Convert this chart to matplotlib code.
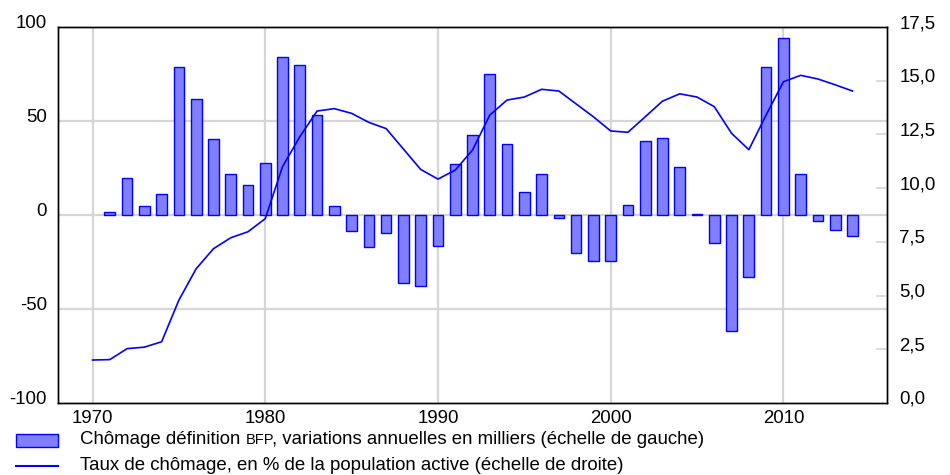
import matplotlib
matplotlib.use("Agg")
import matplotlib.pyplot as plt
import matplotlib.transforms as mtransforms
from matplotlib.patches import Rectangle
from matplotlib.lines import Line2D
import numpy as np

plt.rcParams['font.family'] = ['Liberation Sans', 'DejaVu Sans']
plt.rcParams['axes.unicode_minus'] = False

years = list(range(1970, 2015))

# variations annuelles du chômage (milliers), 1970 sans valeur
variations = [np.nan, 1.5, 19.5, 4.6, 11.0, 78.5, 61.5, 40.3, 21.6, 15.8,
              27.5, 83.9, 79.6, 53.0, 4.6, -8.7, -17.2, -9.7, -36.3, -37.9,
              -16.6, 27.1, 42.4, 74.8, 37.6, 12.1, 21.6, -1.8, -20.4, -24.6,
              -24.6, 5.2, 39.2, 40.8, 25.4, 0.5, -15.0, -61.9, -33.1, 78.5,
              94.0, 21.6, -3.4, -8.1, -11.3]

# taux de chômage en % de la population active
taux = [2.0, 2.02, 2.53, 2.6, 2.85, 4.79, 6.25, 7.18, 7.69, 7.97,
        8.58, 11.0, 12.39, 13.59, 13.7, 13.48, 13.06, 12.77, 11.82, 10.87,
        10.42, 10.84, 11.77, 13.4, 14.1, 14.24, 14.6, 14.52, 13.92, 13.32,
        12.66, 12.6, 13.32, 14.05, 14.39, 14.24, 13.79, 12.55, 11.79, 13.4,
        14.95, 15.25, 15.08, 14.81, 14.52]

decades = [1970, 1980, 1990, 2000, 2010]
left_ticks = [-100, -50, 0, 50, 100]
right_ticks = np.arange(0, 17.6, 2.5)

label_bar = "Chômage définition "
label_bar_sc = "BFP"
label_bar_end = ", variations annuelles en milliers (échelle de gauche)"
label_line = "Taux de chômage, en % de la population active (échelle de droite)"

bar_face = '#8080ff'
blue = '#0000ff'
grid_grey = '#d6d6d6'
fs = 13.4

fig = plt.figure(figsize=(9.5, 4.75), dpi=100)
ax = fig.add_axes([58 / 950, 1 - 403 / 475, 829 / 950, 376 / 475])

ax.set_xlim(1968, 2016)
ax.set_ylim(-100, 100)
ax.set_xticks(decades)
ax.set_yticks(left_ticks)
ax.set_axisbelow(True)
for x in decades:
    ax.axvline(x, color=grid_grey, lw=1.6, zorder=0)
for y in [-50, 0, 50]:
    ax.axhline(y, color=grid_grey, lw=1.6, zorder=0)

ax.bar(years, variations, width=0.62, color=bar_face, edgecolor=blue, linewidth=1, zorder=2)

ax.tick_params(axis='both', length=0, labelsize=fs)
ax.tick_params(axis='x', pad=5)
ax.tick_params(axis='y', pad=8)
for s in ax.spines.values():
    s.set_linewidth(1)
    s.set_color('black')

up = mtransforms.ScaledTranslation(0, 0.055, fig.dpi_scale_trans)
for lab in ax.get_yticklabels():
    lab.set_transform(lab.get_transform() + up)

ax2 = ax.twinx()
ax2.set_ylim(0, 17.5)
ax2.set_yticks(right_ticks)
ax2.set_yticklabels([f"{v:.1f}".replace('.', ',') for v in right_ticks])
ax2.plot(years, taux, color=blue, lw=1.2)
ax2.tick_params(axis='y', direction='in', length=8, width=1.2, color=grid_grey,
                labelsize=fs, pad=9)
for lab in ax2.get_yticklabels():
    lab.set_transform(lab.get_transform() + up)
for s in ax2.spines.values():
    s.set_linewidth(1)

# légende dessinée à la main sous le graphique
W, H = 950, 475
fig.patches.append(Rectangle((16 / W, 1 - 447 / H), 42 / W, 13 / H, transform=fig.transFigure,
                             facecolor=bar_face, edgecolor=blue, linewidth=1))
fig.lines.append(Line2D([16 / W, 58 / W], [1 - 466 / H, 1 - 466 / H], transform=fig.transFigure,
                        color=blue, lw=1.5))

renderer = fig.canvas.get_renderer()
t1 = fig.text(80 / W, 1 - 440 / H, label_bar, fontsize=fs, va='center', ha='left')
bb = t1.get_window_extent(renderer)
t2 = fig.text(bb.x1 / W, 1 - 440.5 / H, label_bar_sc, fontsize=10.5, va='center', ha='left')
bb2 = t2.get_window_extent(renderer)
fig.text((bb2.x1 - 2) / W, 1 - 440 / H, label_bar_end, fontsize=fs, va='center', ha='left')
fig.text(80 / W, 1 - 465 / H, label_line, fontsize=fs, va='center', ha='left')

fig.savefig('out.png', dpi=100)
